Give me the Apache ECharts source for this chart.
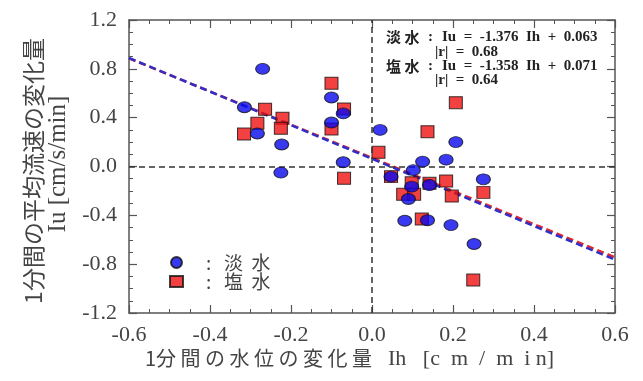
<!DOCTYPE html>
<html>
<head>
<meta charset="utf-8">
<script src="https://cdn.jsdelivr.net/npm/echarts@6/dist/echarts.min.js"></script>
<style>
  html, body { margin: 0; padding: 0; background: #fff; }
  #chart { width: 643px; height: 381px; }
</style>
</head>
<body>
<div id="chart"></div>
<script>
// 淡水 (fresh water): Ih [cm/min] and Iu [cm/s/min]
const freshIh = [-0.270, -0.315, -0.283, -0.223, -0.225, -0.100, -0.100, -0.071, -0.071, 0.020,
                 0.207, 0.125, 0.183, 0.102, 0.047, 0.098, 0.142, 0.090, 0.081, 0.137,
                 0.195, 0.275, 0.252];
const freshIu = [0.800, 0.485, 0.270, 0.180, -0.050, 0.565, 0.360, 0.435, 0.035, 0.300,
                 0.200, 0.040, 0.056, -0.030, -0.083, -0.165, -0.152, -0.266, -0.444, -0.440,
                 -0.480, -0.105, -0.635];

// 塩水 (salt water)
const saltIh = [-0.316, -0.283, -0.264, -0.221, -0.225, -0.100, -0.100, -0.069, 0.016, -0.069,
                0.207, 0.137, 0.047, 0.098, 0.142, 0.077, 0.104, 0.183, 0.197, 0.275,
                0.123, 0.250];
const saltIu = [0.266, 0.354, 0.469, 0.395, 0.313, 0.682, 0.307, 0.471, 0.116, -0.097,
                0.523, 0.285, -0.083, -0.133, -0.138, -0.228, -0.228, -0.119, -0.242, -0.212,
                -0.430, -0.930];

// regression results: [slope, intercept, |r|]
const freshFit = [-1.376, 0.063, 0.68];
const saltFit = [-1.358, 0.071, 0.64];

// axis ranges and tick steps
const xRange = [-0.6, 0.6];
const xStep = 0.2;
const yRange = [-1.2, 1.2];
const yStep = 0.4;

const zip = (a, b) => a.map((v, i) => [v, b[i]]);
const fitLine = f => xRange.map(x => [x, f[0] * x + f[1]]);
const eqText = f => 'Iu  =  ' + f[0].toFixed(3) + '  Ih  +  ' + f[1].toFixed(3);

const SERIF = 'Liberation Serif';
const CJK = 'Noto Sans CJK JP';
const FRAME = '#555';
const INK = '#444';

function makeAxis(range, step, pos, showLabel) {
  return {
    type: 'value', position: pos,
    min: range[0], max: range[1], interval: step,
    axisLine: { show: true, onZero: false, lineStyle: { color: FRAME, width: 1.5 } },
    axisTick: { show: true, inside: true, length: 8, lineStyle: { color: FRAME, width: 1.2 } },
    minorTick: { show: true, splitNumber: 4, length: 4, lineStyle: { color: FRAME, width: 1 } },
    splitLine: { show: false },
    minorSplitLine: { show: false },
    axisLabel: {
      show: showLabel, margin: pos === 'bottom' ? 11 : 12,
      fontFamily: SERIF, fontSize: 22, color: INK,
      formatter: v => v.toFixed(1)
    }
  };
}

const eqStyle = { fontFamily: SERIF, fontSize: 15, fontWeight: 'bold', fill: '#222', verticalAlign: 'middle' };
const txt = (x, y, s, extra) => ({
  type: 'text', x: x, y: y,
  style: Object.assign({ text: s }, eqStyle, extra || {})
});

const chart = echarts.init(document.getElementById('chart'));
chart.setOption({
  animation: false,
  backgroundColor: '#fff',
  grid: { left: 129, right: 28, top: 20, bottom: 68 },
  xAxis: [makeAxis(xRange, xStep, 'bottom', true), makeAxis(xRange, xStep, 'top', false)],
  yAxis: [makeAxis(yRange, yStep, 'left', true), makeAxis(yRange, yStep, 'right', false)],
  legend: {
    data: ['淡水', '塩水'],
    orient: 'vertical', left: 164, top: 248,
    itemWidth: 13, itemHeight: 11, itemGap: 0,
    formatter: n => ':   ' + n.split('').join('  '),
    textStyle: { fontFamily: CJK, fontSize: 19, lineHeight: 18, color: INK, padding: [0, 0, 0, 18] }
  },
  series: [
    {
      name: 'fit-salt', type: 'line', data: fitLine(saltFit), symbol: 'none', silent: true,
      lineStyle: { color: '#e0282e', width: 2.5, type: [7, 4] }, z: 3,
      markLine: {
        silent: true, symbol: 'none', label: { show: false },
        lineStyle: { color: '#333', width: 1.5, type: [6, 4] },
        data: [{ xAxis: 0 }, { yAxis: 0 }]
      }
    },
    {
      name: 'fit-fresh', type: 'line', data: fitLine(freshFit), symbol: 'none', silent: true,
      lineStyle: { color: '#3030c8', width: 2.5, type: [7, 4] }, z: 3
    },
    {
      name: '塩水', type: 'scatter', data: zip(saltIh, saltIu),
      symbol: 'rect', symbolSize: [13, 12], z: 4,
      itemStyle: { color: '#f01010', borderColor: '#111', borderWidth: 1 }
    },
    {
      name: '淡水', type: 'scatter', data: zip(freshIh, freshIu),
      symbol: 'circle', symbolSize: [14, 11], z: 5,
      itemStyle: { color: '#0808ee', borderColor: '#111', borderWidth: 1 }
    }
  ],
  graphic: [
    // y axis title, two rotated lines
    {
      type: 'text', x: 33, y: 171, rotation: Math.PI / 2,
      style: { text: '1分間の平均流速の変化量', fontFamily: CJK, fontSize: 23, fill: INK,
               align: 'center', verticalAlign: 'middle' }
    },
    {
      type: 'text', x: 58, y: 164, rotation: Math.PI / 2,
      style: { text: 'Iu [cm/s/min]', fontFamily: SERIF, fontSize: 25, fill: INK,
               align: 'center', verticalAlign: 'middle' }
    },
    // x axis title: Japanese part and symbol/unit part
    {
      type: 'text', x: 145, y: 358,
      style: { text: '1分 間 の 水 位 の 変 化 量', fontFamily: CJK, fontSize: 20, fill: INK,
               align: 'left', verticalAlign: 'middle' }
    },
    {
      type: 'text', x: 388, y: 359,
      style: { text: 'Ih   [c  m  /  m  i n]', fontFamily: SERIF, fontSize: 22, fill: INK,
               align: 'left', verticalAlign: 'middle' }
    },
    // regression equations
    txt(386, 37, '淡 水', { fontFamily: CJK, fontSize: 15 }),
    txt(428, 37, ':'),
    txt(442, 37, eqText(freshFit)),
    txt(435, 52, '|r|  =  ' + freshFit[2].toFixed(2)),
    txt(386, 66, '塩 水', { fontFamily: CJK, fontSize: 15 }),
    txt(428, 66, ':'),
    txt(442, 66, eqText(saltFit)),
    txt(435, 80, '|r|  =  ' + saltFit[2].toFixed(2))
  ]
});
</script>
</body>
</html>
